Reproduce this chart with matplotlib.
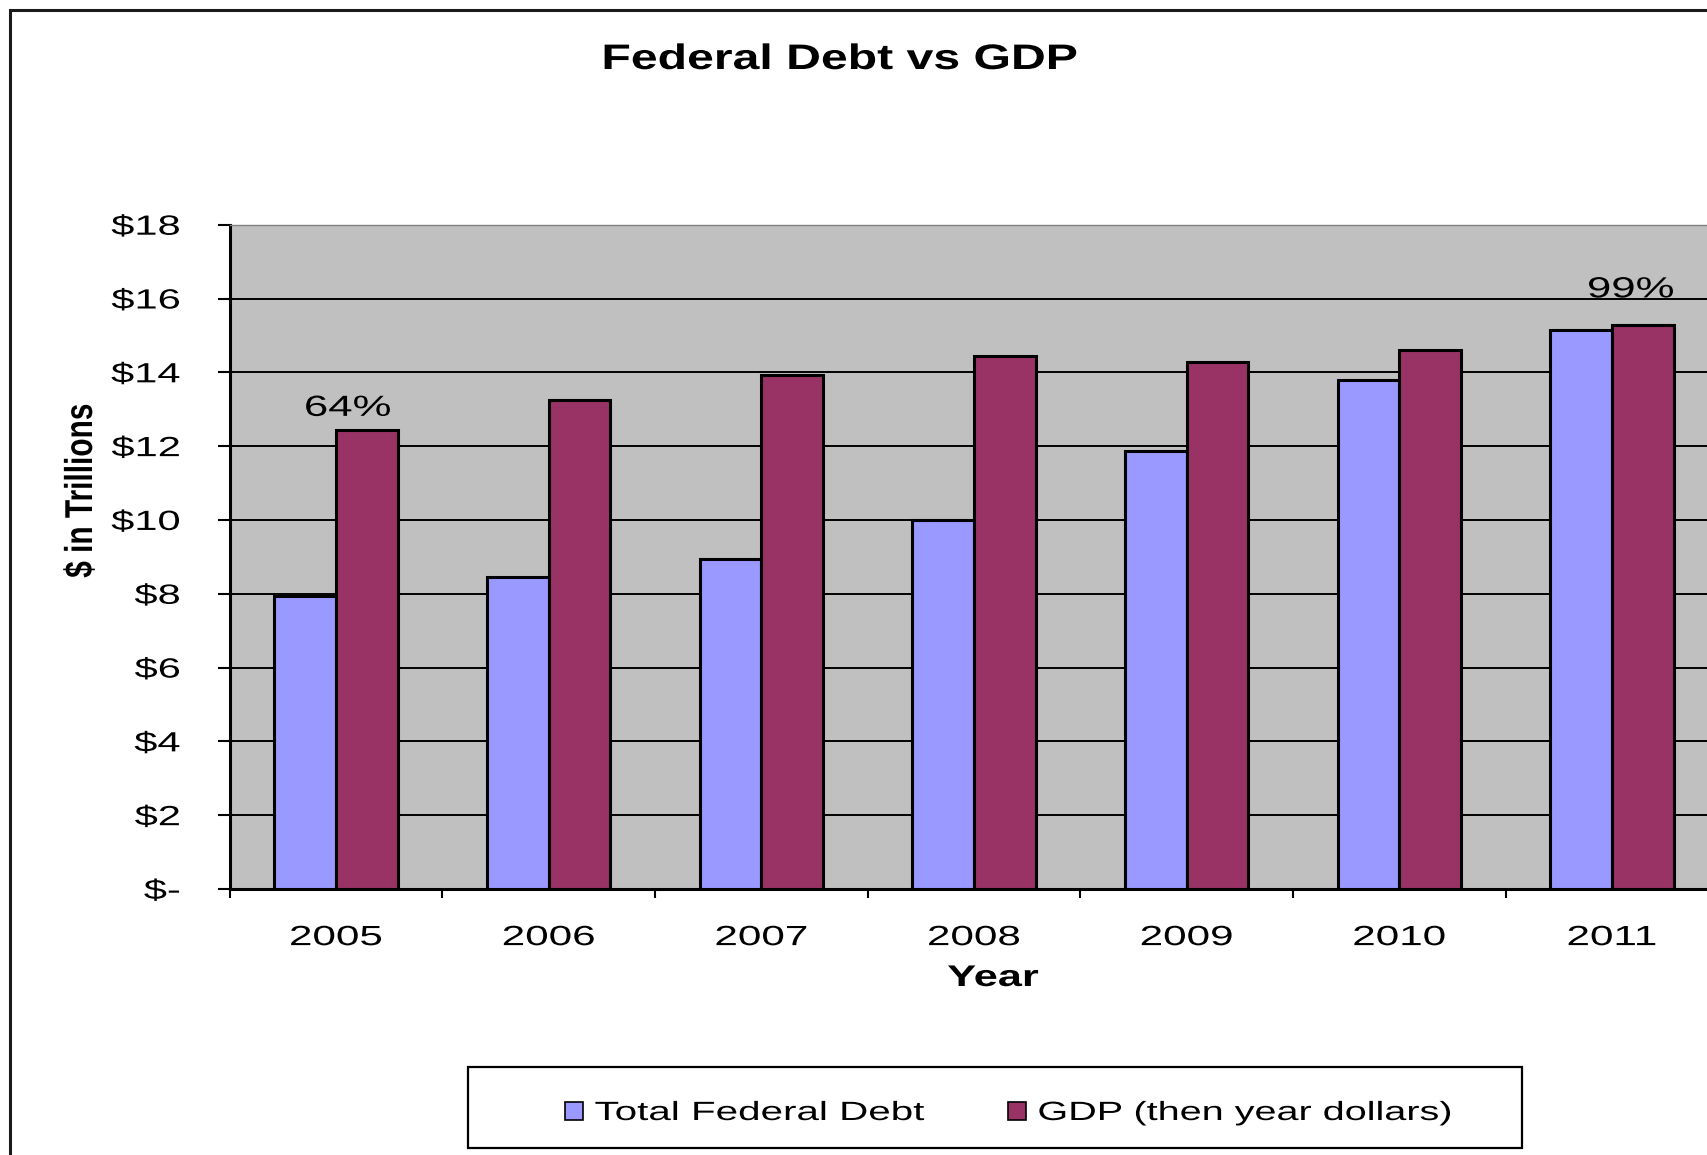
import numpy as np
import matplotlib
matplotlib.use("Agg")
import matplotlib.pyplot as plt
from matplotlib.patches import Rectangle
from matplotlib.patheffects import AbstractPathEffect
from matplotlib.transforms import Affine2D

# ---------------- data ----------------
years = ["2005", "2006", "2007", "2008", "2009", "2010", "2011"]
total_federal_debt = [7.93, 8.45, 8.95, 9.99, 11.88, 13.80, 15.15]
gdp_then_year = [12.45, 13.25, 13.93, 14.45, 14.27, 14.60, 15.27]
ratio_labels = {0: "64%", 6: "99%"}
ytick_values = [0, 2, 4, 6, 8, 10, 12, 14, 16, 18]
ytick_labels = ["$-", "$2", "$4", "$6", "$8", "$10", "$12", "$14", "$16", "$18"]
series_labels = ["Total Federal Debt", "GDP (then year dollars)"]
title_text = "Federal Debt vs GDP"
xlabel_text = "Year"
ylabel_text = "$ in Trillions"

# ---------------- helpers ----------------
W, H = 1707, 1155


def fx(px):
    return px / W


def fy(py):
    return 1 - py / H


class HStretch(AbstractPathEffect):
    """Stretch glyphs horizontally (display space) around an anchor."""

    def __init__(self, sx=1.4, anchor="center"):
        super().__init__()
        self.sx = sx
        self.anchor = anchor

    def draw_path(self, renderer, gc, tpath, affine, rgbFace=None):
        ext = tpath.transformed(affine).get_extents()
        if self.anchor == "left":
            cx = ext.x0
        elif self.anchor == "right":
            cx = ext.x1
        else:
            cx = 0.5 * (ext.x0 + ext.x1)
        new_affine = affine + Affine2D().translate(-cx, 0).scale(self.sx, 1).translate(cx, 0)
        renderer.draw_path(gc, tpath, new_affine, rgbFace)


plt.rcParams["font.family"] = ["Liberation Sans", "DejaVu Sans"]

fig = plt.figure(figsize=(W / 100, H / 100), dpi=100)
fig.patch.set_facecolor("white")

# outer chart frame (right/bottom edges lie beyond the image)
fig.patches.append(Rectangle((fx(10), -0.2), 2.0, fy(10) + 0.2, transform=fig.transFigure,
                             fill=False, edgecolor="#1a1a1a", linewidth=2.2, clip_on=False))

ax = fig.add_axes([fx(229.7), fy(889), (1718.3 - 229.7) / W, (889 - 224.7) / H])
ax.set_facecolor("#C0C0C0")

x = np.arange(len(years))
w = 0.29
b1 = ax.bar(x - w / 2, total_federal_debt, w, color="#9999FF", edgecolor="black",
            linewidth=2.2, label=series_labels[0], zorder=3)
b2 = ax.bar(x + w / 2, gdp_then_year, w, color="#993366", edgecolor="black",
            linewidth=2.2, label=series_labels[1], zorder=3)

ax.set_xlim(-0.5, len(years) - 0.5)
ax.set_ylim(0, 18)

# y axis
ax.set_yticks(ytick_values)
ax.set_yticklabels(ytick_labels)
ax.tick_params(axis="y", direction="out", length=8.6, width=1.5, pad=27,
               labelsize=20, colors="black")
ax.yaxis.grid(True, color="black", linewidth=1.4, zorder=1)
ax.set_axisbelow(True)

# x axis: tick marks at category boundaries, labels at centres
ax.set_xticks(np.arange(len(years) + 1) - 0.5)
ax.set_xticklabels([])
ax.set_xticks(x, minor=True)
ax.set_xticklabels(years, minor=True)
ax.tick_params(axis="x", which="major", direction="out", length=6.5, width=1.5)
ax.tick_params(axis="x", which="minor", length=0, pad=26, labelsize=20)

for s in ["left", "bottom"]:
    ax.spines[s].set_linewidth(2.2)
    ax.spines[s].set_color("black")
ax.spines["top"].set_color("#808080")
ax.spines["top"].set_linewidth(1.0)
ax.spines["right"].set_visible(False)

for lab in ax.get_yticklabels():
    lab.set_path_effects([HStretch(1.5, "right")])
for lab in ax.get_xticklabels(minor=True):
    lab.set_path_effects([HStretch(1.52, "center")])

# ratio labels above GDP bars
offsets = {0: (0.055, 0.37), 6: (0.088, 0.76)}
for i, txt in ratio_labels.items():
    dx, dy = offsets[i]
    t = ax.text(x[i] + dx, gdp_then_year[i] + dy, txt, ha="center", va="baseline",
                fontsize=21, color="black", zorder=5, clip_on=False)
    t.set_path_effects([HStretch(1.5, "center")])

# title and axis titles
t = fig.text(fx(840), fy(69), title_text, ha="center", va="baseline",
             fontsize=25.5, fontweight="bold")
t.set_path_effects([HStretch(1.36, "center")])

t = fig.text(fx(993), fy(986), xlabel_text, ha="center", va="baseline",
             fontsize=21.5, fontweight="bold")
t.set_path_effects([HStretch(1.45, "center")])

t = fig.text(fx(81), fy(490.5), ylabel_text, ha="center", va="center",
             rotation=90, fontsize=21.5, fontweight="bold")
t.set_path_effects([HStretch(1.3, "center")])

# legend
fig.patches.append(Rectangle((fx(468), fy(1148)), (1522 - 468) / W, (1148 - 1067) / H,
                             transform=fig.transFigure, fill=False,
                             edgecolor="black", linewidth=1.6))
leg = fig.legend(handles=[b1, b2], labels=series_labels, loc="center left",
                 bbox_to_anchor=(fx(565), fy(1113)), ncol=2, frameon=False,
                 fontsize=19, handlelength=0.68, handleheight=0.68,
                 handletextpad=0.45, columnspacing=7.5, borderpad=0,
                 borderaxespad=0)
for p in leg.get_patches():
    p.set_linewidth(1.2)
for i, lt in enumerate(leg.get_texts()):
    lt.set_path_effects([HStretch(1.53 if i == 0 else 1.5, "left")])

fig.savefig("out.png", dpi=100, facecolor="white")
